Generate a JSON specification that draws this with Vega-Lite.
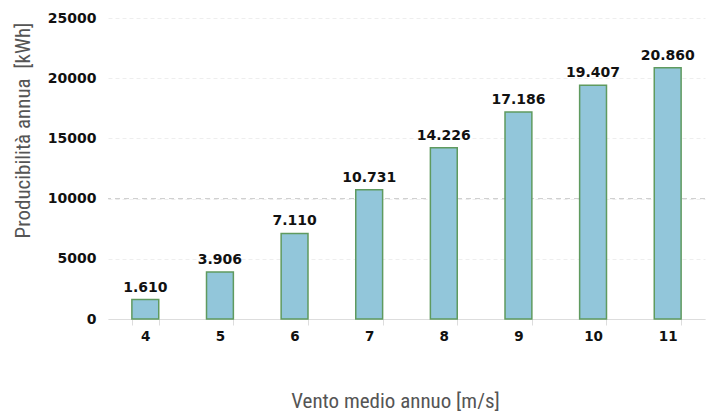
{
  "$schema": "https://vega.github.io/schema/vega-lite/v6.json",
  "width": 597,
  "height": 301,
  "autosize": {"type": "none"},
  "padding": {"left": 108, "top": 18, "right": 1, "bottom": 94},
  "background": "white",
  "data": {"values": [
    {"vento": "4", "prod": 1610, "label": "1.610"},
    {"vento": "5", "prod": 3906, "label": "3.906"},
    {"vento": "6", "prod": 7110, "label": "7.110"},
    {"vento": "7", "prod": 10731, "label": "10.731"},
    {"vento": "8", "prod": 14226, "label": "14.226"},
    {"vento": "9", "prod": 17186, "label": "17.186"},
    {"vento": "10", "prod": 19407, "label": "19.407"},
    {"vento": "11", "prod": 20860, "label": "20.860"}
  ]},
  "config": {
    "view": {"stroke": null},
    "axis": {"labelFont": "DejaVu Sans", "titleFont": "Liberation Sans Narrow, Roboto Condensed, Roboto"}
  },
  "encoding": {
    "x": {
      "field": "vento", "type": "ordinal", "sort": null,
      "scale": {"paddingInner": 0.64, "paddingOuter": 0.32},
      "axis": {
        "title": "Vento medio annuo [m/s]",
        "titleFontSize": 21, "titleFontWeight": "normal", "titleColor": "#555555",
        "titlePadding": 48, "titleX": 287,
        "labelAngle": 0, "labelFontSize": 13.5, "labelFontWeight": "bold", "labelColor": "#111111",
        "labelPadding": 4,
        "tickBand": "extent", "tickColor": "#dddddd", "tickSize": 6,
        "domainColor": "#dddddd", "grid": false
      }
    },
    "y": {
      "field": "prod", "type": "quantitative",
      "scale": {"domain": [0, 25000], "nice": false},
      "axis": {
        "title": "Producibilità annua \u00a0[kWh]",
        "titleFontSize": 21, "titleFontWeight": "normal", "titleColor": "#555555",
        "titlePadding": 14, "titleY": 112,
        "values": [0, 5000, 10000, 15000, 20000, 25000],
        "format": "d",
        "labelFontSize": 14, "labelFontWeight": "bold", "labelColor": "#111111",
        "labelPadding": 12,
        "ticks": false, "domain": false,
        "grid": true, "gridColor": "#eeeeee", "gridDash": [4, 3]
      }
    }
  },
  "layer": [
    {
      "mark": {"type": "rule", "color": "#cccccc", "strokeDash": [5, 4]},
      "data": {"values": [{"y": 10000}]},
      "encoding": {"y": {"field": "y", "type": "quantitative"}, "x": null}
    },
    {
      "mark": {"type": "bar", "fill": "#92c6da", "stroke": "#5f9a5f", "strokeWidth": 1.5}
    },
    {
      "mark": {"type": "text", "dy": -12, "fontSize": 14, "fontWeight": "bold", "font": "DejaVu Sans", "color": "#111111"},
      "encoding": {"text": {"field": "label"}}
    }
  ]
}
